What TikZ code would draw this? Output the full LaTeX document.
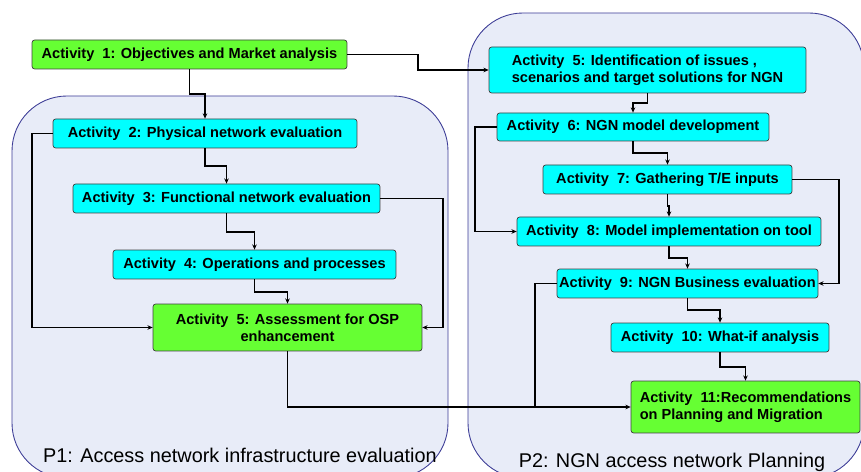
\documentclass[tikz,border=0pt]{standalone}
\usepackage{fontspec}
\setmainfont{Liberation Sans}
\usetikzlibrary{arrows.meta}
\definecolor{actgreen}{RGB}{102,255,51}
\definecolor{actcyan}{RGB}{0,255,255}
\definecolor{panelfill}{RGB}{232,236,248}
\definecolor{panelline}{RGB}{60,60,150}
\tikzset{
    >={Stealth[length=3pt,width=2.6pt]}, % small arrow heads
    activity/.style={draw=black!75, rounded corners=1.5pt, inner sep=0pt, align=center,
        font=\bfseries\fontsize{8.3}{9.8}\selectfont}, % every activity box
    cyanbox/.style={activity, fill=actcyan},
    greenbox/.style={activity, fill=actgreen},
    panel/.style={fill=panelfill, draw=panelline, line width=0.5pt, rounded corners=1.1cm}, % the two phases
    phase/.style={font=\fontsize{11.3}{13}\selectfont},
    link/.style={draw=black, line width=1.1pt, ->}, % connectors
    mergeline/.style={draw=black, line width=1.1pt},
}

\begin{document}
\begin{tikzpicture}[x=0.02cm, y=-0.02cm]
    \useasboundingbox (0,0) rectangle (861,472);
    \clip (0,0) rectangle (861,472);
    % phases
    \draw[panel] (12,96) rectangle (448,478);
    \draw[panel] (468,13) rectangle (864,478);
    \node[phase] (p1) at (240,455) {P1: Access network infrastructure evaluation};
    \node[phase] (p2) at (672,462) {P2: NGN access network Planning};
    % P1 activities
    \node[greenbox, minimum width=6.30cm, minimum height=0.58cm] (a1) at (189.5,54.5) {Activity\ \ 1: Objectives and Market analysis};
    \node[cyanbox, minimum width=6.08cm, minimum height=0.58cm] (a2) at (205,133.5) {Activity\ \ 2: Physical network evaluation};
    \node[cyanbox, minimum width=6.14cm, minimum height=0.58cm] (a3) at (226.5,198.5) {Activity\ \ 3: Functional network evaluation};
    \node[cyanbox, minimum width=5.66cm, minimum height=0.58cm] (a4) at (254.5,264.5) {Activity\ \ 4: Operations and processes};
    \node[greenbox, minimum width=5.38cm, minimum height=0.94cm] (a5) at (287.5,327.5) {Activity\ \ 5: Assessment for OSP\\enhancement};
    % P2 activities
    \node[cyanbox, minimum width=6.34cm, minimum height=0.92cm, align=left] (b5) at (647.5,70) {Activity\ \ 5: Identification of issues ,\\scenarios and target solutions for NGN};
    \node[cyanbox, minimum width=5.44cm, minimum height=0.56cm] (b6) at (633,127) {Activity\ \ 6: NGN model development};
    \node[cyanbox, minimum width=4.98cm, minimum height=0.58cm] (b7) at (667.5,179.5) {Activity\ \ 7: Gathering T/E inputs};
    \node[cyanbox, minimum width=6.08cm, minimum height=0.58cm] (b8) at (669,231.5) {Activity\ \ 8: Model implementation on tool};
    \node[cyanbox, minimum width=5.22cm, minimum height=0.58cm] (b9) at (687.5,283.5) {Activity\ \ 9: NGN Business evaluation};
    \node[cyanbox, minimum width=4.36cm, minimum height=0.58cm] (b10) at (720,337.5) {Activity\ \ 10: What-if analysis};
    \node[greenbox, minimum width=4.58cm, minimum height=1.04cm, align=left] (b11) at (745.5,407) {Activity\ \ 11:Recommendations\\on Planning and Migration};
    % connectors
    \draw[link] (a1.south) -- ++(0,25) -| (a2.north);
    \draw[link] (a1.east) -- ++(71,0) |- (b5.west);
    \draw[link] (a2.south) -- ++(0,18) -| (a3.north);
    \draw[link] (a3.south) -- ++(0,19) -| (a4.north);
    \draw[link] (a4.south) -- ++(0,13) -| (a5.north);
    \draw[link] (a2.west) -- ++(-21,0) |- (a5.west);
    \draw[link] (a3.east) -- ++(63,0) |- (a5.east);
    \draw[link] (a5.south) |- (b11.west);
    \draw[mergeline] (b9.west) -- ++(-22,0) coordinate (m9) -- (m9 |- b11.west);
    \draw[link] (b5.south) -- ++(0,10) -| (b6.north);
    \draw[link] (b6.south) -- ++(0,12) -| (b7.north);
    \draw[link] (b7.south) -- ++(0,12) -| (b8.north);
    \draw[link] (b6.west) -- ++(-22,0) |- (b8.west);
    \draw[link] (b7.east) -- ++(47,0) |- (b9.east);
    \draw[link] (b8.south) -- ++(0,12) -| (b9.north);
    \draw[link] (b9.south) -- ++(0,12) -| (b10.north);
    \draw[link] (b10.south) -- ++(0,15) -| (b11.north);
\end{tikzpicture}
\end{document}
